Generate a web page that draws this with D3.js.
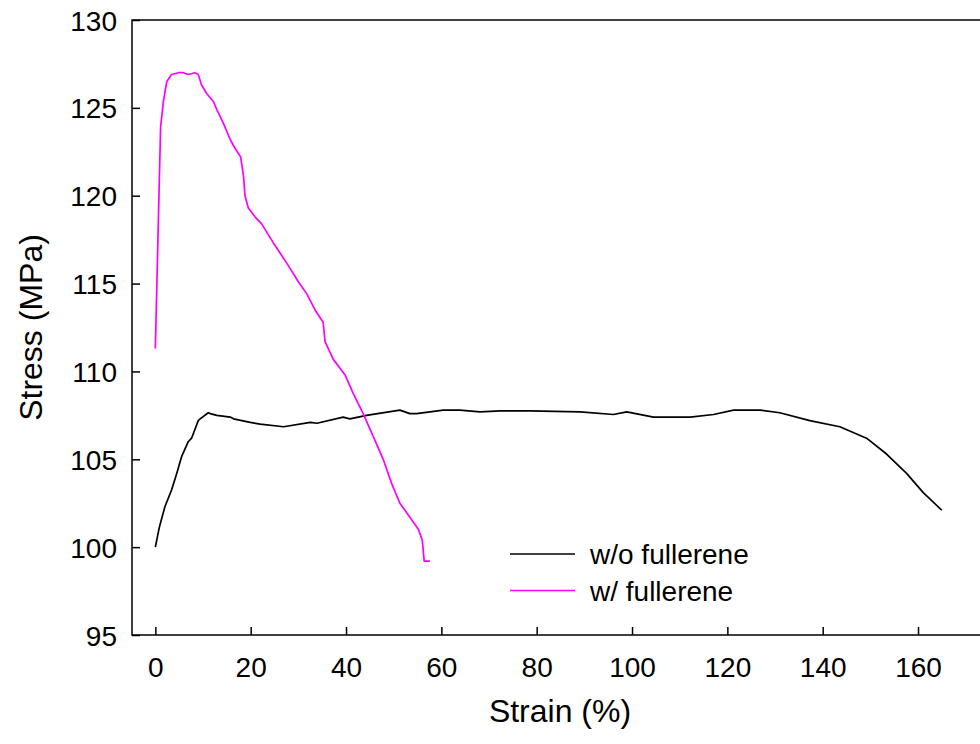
<!DOCTYPE html>
<html>
<head>
<meta charset="utf-8">
<script src="https://cdn.jsdelivr.net/npm/d3@7"></script>
<style>
  body { margin: 0; background: #fff; }
  svg { display: block; font-family: Arial, "Liberation Sans", sans-serif; }
</style>
</head>
<body>
<div id="chart"></div>
<script>
// tick values
const xTicks = [0, 20, 40, 60, 80, 100, 120, 140, 160];
const yTicks = [95, 100, 105, 110, 115, 120, 125, 130];

// w/o fullerene
const strainPlain = [0, 0.85, 2.0, 3.4, 4.5, 5.5, 6.9, 7.6, 9.0, 9.4, 11.1, 11.5, 12.9, 15.7, 16.4, 19.9, 22.0,
  26.9, 32.5, 33.9, 39.4, 40.8, 44.3, 51.3, 53.4, 54.8, 60.4, 61.9, 63.9, 68.1, 72.4, 78.6, 89.1,
  96.1, 98.9, 104.5, 112.2, 117.1, 121.3, 126.9, 131.0, 137.3, 143.6, 149.2, 153.4, 157.6, 161.1, 165.0];
const stressPlain = [100.0, 101.15, 102.3, 103.25, 104.2, 105.15, 106.0, 106.2, 107.2, 107.3, 107.65, 107.6, 107.5, 107.4, 107.3, 107.1, 107.0,
  106.85, 107.1, 107.05, 107.4, 107.3, 107.5, 107.8, 107.6, 107.6, 107.8, 107.8, 107.8, 107.7, 107.75, 107.75, 107.7,
  107.55, 107.7, 107.4, 107.4, 107.55, 107.8, 107.8, 107.65, 107.2, 106.85, 106.2, 105.3, 104.2, 103.1, 102.1];

// w/ fullerene
const strainFul = [0, 0.6, 1.1, 1.7, 2.4, 3.4, 4.8, 5.9, 6.9, 8.3, 9.0, 9.7, 10.8, 12.2, 12.9, 14.3, 15.7, 16.7,
  17.9, 18.5, 18.8, 19.5, 20.9, 22.3, 24.8, 27.6, 30.0, 31.8, 33.5, 35.2, 35.6, 37.3, 39.8, 41.5, 43.6,
  45.7, 47.8, 49.6, 51.3, 53.4, 55.2, 56.0, 56.4, 57.6];
const stressFul = [111.3, 118.2, 123.9, 125.4, 126.5, 126.9, 127.0, 127.0, 126.9, 127.0, 126.9, 126.3, 125.8, 125.35, 124.9, 124.1, 123.2, 122.7,
  122.2, 121.1, 120.0, 119.3, 118.8, 118.4, 117.3, 116.15, 115.1, 114.4, 113.5, 112.8, 111.7, 110.7, 109.8, 108.75, 107.6,
  106.3, 105.0, 103.6, 102.5, 101.7, 101.0, 100.4, 99.2, 99.2];

const seriesNames = ['w/o fullerene', 'w/ fullerene'];
const seriesColors = ['#000000', '#ff00ff'];

function drawChart() {
  const w = 980;
  const h = 744;
  const left = 132, top = 20, bottom = 635, right = 990;

  const svg = d3.select('#chart').append('svg').attr('width', w).attr('height', h);

  const x = d3.scaleLinear().domain([-4.9, 175.1]).range([left, right]);
  const y = d3.scaleLinear().domain([95, 130]).range([bottom, top]);

  // frame (right side falls off the page)
  svg.append('rect')
    .attr('x', left).attr('y', top)
    .attr('width', right - left).attr('height', bottom - top)
    .attr('fill', 'none').attr('stroke', '#000').attr('stroke-width', 1.5);

  // inward ticks
  const xAxis = d3.axisBottom(x).tickValues(xTicks).tickSizeInner(-8).tickSizeOuter(0).tickPadding(22);
  const yAxis = d3.axisLeft(y).tickValues(yTicks).tickSizeInner(-8).tickSizeOuter(0).tickPadding(15);

  const gx = svg.append('g').attr('transform', `translate(0,${bottom})`).call(xAxis);
  const gy = svg.append('g').attr('transform', `translate(${left},0)`).call(yAxis);
  [gx, gy].forEach(g => {
    g.select('.domain').remove();
    g.selectAll('line').attr('stroke', '#000').attr('stroke-width', 1.5);
    g.selectAll('text').attr('fill', '#000').style('font-size', '28px')
      .style('font-family', 'Arial, "Liberation Sans", sans-serif');
  });
  gx.selectAll('text').attr('dy', '0.71em');
  gy.selectAll('text').attr('dy', '0.36em');

  const line = d3.line().x(d => x(d[0])).y(d => y(d[1]));
  const series = [
    d3.zip(strainPlain, stressPlain),
    d3.zip(strainFul, stressFul),
  ];

  svg.selectAll('path.curve')
    .data(series)
    .enter()
    .append('path')
    .attr('class', 'curve')
    .attr('d', line)
    .attr('fill', 'none')
    .attr('stroke', (d, i) => seriesColors[i])
    .attr('stroke-width', 1.7)
    .attr('stroke-linejoin', 'round');

  // legend
  const lg = svg.append('g');
  seriesNames.forEach((name, i) => {
    const ly = 554 + i * 36.5;
    lg.append('line').attr('x1', 510).attr('x2', 575).attr('y1', ly).attr('y2', ly)
      .attr('stroke', seriesColors[i]).attr('stroke-width', 1.7);
    lg.append('text').attr('x', 590).attr('y', ly + 10).text(name)
      .style('font-size', '28px').attr('fill', '#000');
  });

  // axis titles
  svg.append('text')
    .attr('x', 560).attr('y', 722)
    .attr('text-anchor', 'middle')
    .style('font-size', '32px')
    .text('Strain (%)');

  svg.append('text')
    .attr('transform', `translate(42,${(top + bottom) / 2}) rotate(-90)`)
    .attr('text-anchor', 'middle')
    .style('font-size', '32px')
    .text('Stress (MPa)');
}

window.onload = function () {
  drawChart();
};
</script>
</body>
</html>
